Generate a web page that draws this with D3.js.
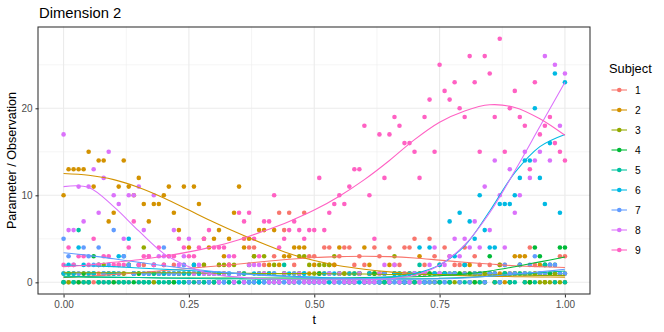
<!DOCTYPE html>
<html>
<head>
<meta charset="utf-8">
<script src="https://d3js.org/d3.v7.min.js"></script>
<style>
body { margin: 0; background: #fff; }
svg text { font-family: "Liberation Sans", Arial, sans-serif; }
</style>
</head>
<body>
<div id="chart"></div>
<script>
// subjects and their hue colours
const subjects = ["1", "2", "3", "4", "5", "6", "7", "8", "9"];
const colours = ["#F8766D", "#D39200", "#93AA00", "#00BA38", "#00C19F", "#00B9E3", "#619CFF", "#DB72FB", "#FF61C3"];

// observations: one value per subject at t = 0, 0.01, ..., 1.00
const obsStep = 0.01;
const obs1 = [0,0,1,0,1,0,0,1,0,1, 0,2,1,0,1,0,2,1,0,1, 1,0,2,1,2,1,0,1,2,0, 1,2,1,2,0,1,5,4,4,1,
  2,1,3,8,6,8,2,1,8,3, 3,1,4,4,2,3,4,4,2,3, 2,1,4,3,1,4,2,2,4,4, 5,1,2,5,3,1,4,3,2,2,
  4,1,3,2,1,2,1,2,2,1, 1,2,1,4,2,1,2,2,1,3, 3];
const obs2 = [10,13,13,13,13,15,11,14,14,7, 8,11,14,11,10,12,9,7,9,9, 10,11,8,6,11,4,11,9,5,4,
  5,6,3,5,8,11,4,5,3,6, 6,2,6,2,3,3,4,4,4,1, 2,1,1,2,2,4,1,1,0,1, 4,2,1,1,0,2,1,0,1,1,
  0,3,1,0,1,0,1,0,1,0, 1,2,0,1,0,1,0,1,0,1, 3,3,3,0,1,2,0,1,0,1, 0];
const obs3 = [1,0,1,1,0,1,1,2,2,1, 1,0,1,2,1,1,4,1,0,1, 2,1,0,1,1,1,2,0,2,1, 0,2,2,2,2,1,1,0,3,1,
  3,1,2,0,1,0,1,3,3,2, 1,2,2,2,3,1,1,0,1,1, 0,1,1,0,1,0,3,1,0,1, 1,0,1,1,0,2,1,1,0,1,
  1,0,1,0,1,1,0,2,1,0, 1,1,0,0,1,0,0,0,1,0, 1];
const obs4 = [0,1,0,0,1,0,3,0,1,0, 0,1,0,2,0,1,0,0,1,0, 1,0,0,1,0,0,1,0,0,1, 0,0,1,0,0,1,0,2,0,0,
  1,0,0,0,1,0,0,1,0,0, 0,1,0,0,0,1,0,0,0,1, 0,0,1,0,0,0,1,0,0,0, 0,1,0,1,0,0,1,0,1,1,
  2,1,0,1,0,3,1,0,1,0, 1,2,1,0,4,3,2,1,2,4, 4];
const obs5 = [0,1,0,6,0,0,1,0,0,0, 1,0,0,0,1,0,0,0,1,0, 0,0,1,0,0,0,0,1,0,0, 0,1,0,0,0,0,1,0,0,0,
  0,0,1,0,2,0,0,0,1,0, 0,0,0,1,0,0,0,0,1,0, 0,1,0,0,0,0,0,1,0,0, 0,2,0,0,1,0,0,0,1,0,
  0,0,1,0,0,1,0,0,1,0, 0,1,0,1,0,1,2,2,0,1, 0];
const obs6 = [1,2,1,4,2,1,1,2,1,1, 1,3,3,5,1,2,1,1,2,1, 1,1,1,0,1,1,2,1,1,0, 1,0,0,1,0,1,0,0,1,0,
  0,1,0,0,0,1,0,0,1,0, 0,0,1,0,1,0,0,1,0,0, 0,1,0,0,1,0,1,0,0,1, 1,4,0,4,1,2,1,7,3,8,
  2,7,5,10,6,4,4,9,9,9, 10,12,14,14,20,12,9,16,24,8, 23];
const obs7 = [5,3,2,1,4,3,2,4,1,2, 6,1,3,2,1,2,1,1,2,1, 4,1,1,1,2,0,1,0,1,0, 1,0,0,1,0,1,0,0,0,1,
  0,0,1,0,0,0,1,0,0,0, 0,0,0,1,0,0,0,0,0,1, 0,0,0,0,1,0,0,0,0,0, 1,0,0,0,0,1,0,1,1,0,
  1,0,1,1,0,1,1,0,2,1, 1,2,1,2,3,1,1,2,2,1, 1];
const obs8 = [17,6,6,11,7,11,13,8,12,15, 10,9,5,10,10,11,6,3,10,3, 3,3,6,2,3,5,1,2,1,1, 1,0,1,3,0,1,0,2,2,2,
  1,0,0,0,1,0,0,1,0,0, 0,0,0,1,0,1,0,0,0,1, 0,0,0,1,2,0,2,0,1,0, 1,0,1,2,4,1,2,3,5,3,
  5,4,7,4,11,6,14,10,4,13, 8,10,15,12,14,15,26,14,25,18, 24];
const obs9 = [2,4,2,3,3,2,5,2,3,3, 2,2,2,4,7,2,3,3,2,4, 2,3,3,5,4,3,3,4,5,6, 4,4,4,2,3,8,7,8,5,3,
  7,7,10,4,5,6,7,6,5,6, 6,12,6,8,9,10,9,11,13,13, 18,10,5,17,12,17,19,18,16,16, 15,12,19,21,15,25,22,21,23,20,
  19,26,23,15,26,24,19,28,15,20, 22,19,18,13,23,17,18,19,16,15, 14];

// fitted parameter curves, one value per subject at t = 0, 0.05, ..., 1.00
const fitStep = 0.05;
const fit1 = [0.55,0.7,0.9,1.1,1.35,1.6,1.85,2.1,2.4,2.65,2.85,2.95,3.0,2.95,2.8,2.55,2.3,2.1,1.9,1.8,1.7];
const fit2 = [12.5,12.3,11.8,10.9,9.7,8.3,6.9,5.6,4.4,3.3,2.5,1.9,1.5,1.2,1.0,0.85,0.75,0.7,0.65,0.62,0.6];
const fit3 = [1.1,1.1,1.1,1.1,1.1,1.1,1.05,1.05,1.0,1.0,1.0,0.95,0.95,0.9,0.9,0.9,0.85,0.85,0.85,0.8,0.8];
const fit4 = [0.6,0.6,0.55,0.55,0.5,0.5,0.5,0.5,0.5,0.5,0.5,0.5,0.55,0.6,0.65,0.75,0.95,1.3,1.8,2.35,2.9];
const fit5 = [0.7,0.65,0.6,0.55,0.5,0.45,0.4,0.4,0.35,0.35,0.35,0.35,0.35,0.4,0.4,0.45,0.55,0.7,0.9,1.1,1.3];
const fit6 = [2.0,1.9,1.8,1.65,1.5,1.35,1.2,1.0,0.85,0.7,0.6,0.5,0.5,0.6,1.0,2.0,4.2,8.2,12.6,15.6,17.0];
const fit7 = [3.4,3.1,2.7,2.3,1.9,1.55,1.25,1.0,0.8,0.65,0.5,0.45,0.4,0.35,0.35,0.4,0.5,0.7,0.95,1.2,1.5];
const fit8 = [11.0,10.9,8.7,5.9,3.3,1.8,0.9,0.6,0.4,0.3,0.3,0.3,0.3,0.4,0.8,2.0,4.3,8.0,12.8,17.9,23.0];
const fit9 = [1.8,2.0,2.3,2.6,3.0,3.5,4.1,4.9,5.9,7.0,8.3,9.9,11.8,14.0,16.4,18.4,19.7,20.4,20.1,18.8,16.9];

const xTicks = [0, 0.25, 0.5, 0.75, 1];
const xMinor = [0.125, 0.375, 0.625, 0.875];
const yTicks = [0, 10, 20];
const yMinor = [5, 15, 25];

const observations = [obs1, obs2, obs3, obs4, obs5, obs6, obs7, obs8, obs9];
const fits = [fit1, fit2, fit3, fit4, fit5, fit6, fit7, fit8, fit9];

const W = 664, H = 332;
const panel = { left: 38.5, right: 590, top: 26.5, bottom: 294.5 };

const svg = d3.select("#chart").append("svg").attr("width", W).attr("height", H);

const x = d3.scaleLinear().domain([-0.05, 1.05]).range([panel.left, panel.right]);
const y = d3.scaleLinear().domain([-1.4, 29.4]).range([panel.bottom, panel.top]);

// grid
const grid = svg.append("g");
grid.selectAll(".xmin").data(xMinor).enter().append("line")
	.attr("x1", d => x(d)).attr("x2", d => x(d)).attr("y1", panel.top).attr("y2", panel.bottom)
	.attr("stroke", "#EBEBEB").attr("stroke-width", 0.55);
grid.selectAll(".ymin").data(yMinor).enter().append("line")
	.attr("y1", d => y(d)).attr("y2", d => y(d)).attr("x1", panel.left).attr("x2", panel.right)
	.attr("stroke", "#EBEBEB").attr("stroke-width", 0.55);
grid.selectAll(".xmaj").data(xTicks).enter().append("line")
	.attr("x1", d => x(d)).attr("x2", d => x(d)).attr("y1", panel.top).attr("y2", panel.bottom)
	.attr("stroke", "#EBEBEB").attr("stroke-width", 1.1);
grid.selectAll(".ymaj").data(yTicks).enter().append("line")
	.attr("y1", d => y(d)).attr("y2", d => y(d)).attr("x1", panel.left).attr("x2", panel.right)
	.attr("stroke", "#EBEBEB").attr("stroke-width", 1.1);

// points, subject 1 drawn first
const plot = svg.append("g");
observations.forEach((vals, s) => {
	plot.append("g").selectAll("circle").data(vals).enter().append("circle")
		.attr("cx", (d, i) => x(i * obsStep))
		.attr("cy", d => y(d))
		.attr("r", 2.3)
		.attr("fill", colours[s]);
});

// fitted curves
const line = d3.line()
	.x((d, i) => x(i * fitStep))
	.y(d => y(d))
	.curve(d3.curveCatmullRom.alpha(0.5));
fits.forEach((vals, s) => {
	plot.append("path").attr("d", line(vals))
		.attr("fill", "none").attr("stroke", colours[s]).attr("stroke-width", 1.07);
});

// panel border (on whole pixels so it softens like the original)
svg.append("rect")
	.attr("x", 38).attr("y", 27)
	.attr("width", 552).attr("height", 267)
	.attr("fill", "none").attr("stroke", "#333333").attr("stroke-width", 1.07);

// axes
const xAxis = svg.append("g").attr("transform", "translate(0," + panel.bottom + ")")
	.call(d3.axisBottom(x).tickValues(xTicks).tickFormat(d3.format(".2f")).tickSize(3).tickPadding(3));
const yAxis = svg.append("g").attr("transform", "translate(" + panel.left + ",0)")
	.call(d3.axisLeft(y).tickValues(yTicks).tickSize(3).tickPadding(3));
[xAxis, yAxis].forEach(a => {
	a.select(".domain").remove();
	a.selectAll(".tick line").attr("stroke", "#333333").attr("stroke-width", 1.07);
	a.selectAll(".tick text").attr("fill", "#4D4D4D").style("font-size", "10px")
		.style("font-family", "'Liberation Sans', Arial, sans-serif");
});

// titles
svg.append("text").attr("x", 39).attr("y", 17.5).text("Dimension 2")
	.style("font-size", "14.8px").attr("fill", "#000");
svg.append("text").attr("x", x(0.5)).attr("y", 323.5).attr("text-anchor", "middle")
	.text("t").style("font-size", "12.6px");
svg.append("text")
	.attr("transform", "translate(15.5," + ((panel.top + panel.bottom) / 2) + ") rotate(-90)")
	.attr("text-anchor", "middle").text("Parameter / Observation").style("font-size", "12.6px");

// legend
const legend = svg.append("g");
legend.append("text").attr("x", 609).attr("y", 73).text("Subject").style("font-size", "12.8px");
subjects.forEach((s, i) => {
	const ly = 90 + i * 20;
	legend.append("line").attr("x1", 611.5).attr("x2", 627).attr("y1", ly).attr("y2", ly)
		.attr("stroke", colours[i]).attr("stroke-width", 1.07);
	legend.append("circle").attr("cx", 619.3).attr("cy", ly).attr("r", 2.3).attr("fill", colours[i]);
	legend.append("text").attr("x", 635).attr("y", ly).attr("dy", "0.35em").text(s)
		.style("font-size", "10.3px").attr("fill", "#000");
});
</script>
</body>
</html>
